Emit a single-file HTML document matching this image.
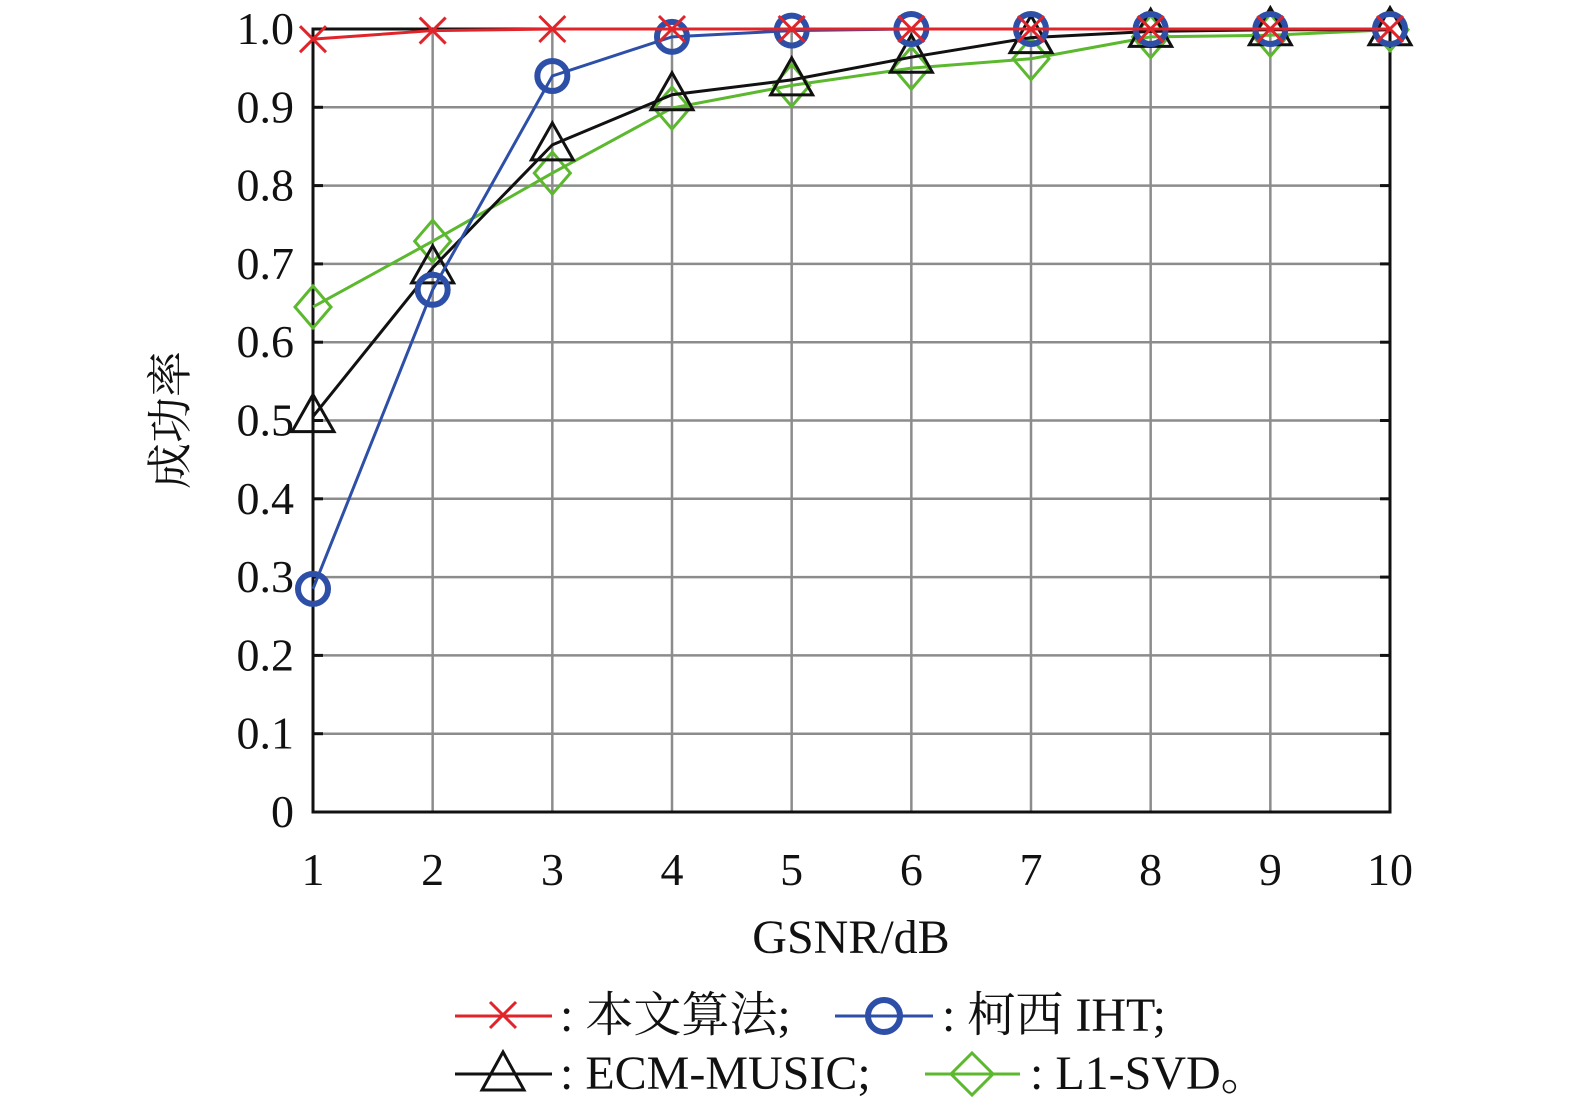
<!DOCTYPE html>
<html><head><meta charset="utf-8"><style>
body{margin:0;background:#fff;}
svg text{font-family:"Liberation Serif","Noto Serif CJK SC",serif;fill:#111;}
</style></head><body>
<svg width="1575" height="1107" viewBox="0 0 1575 1107">
<g id="grid"></g>
<g id="axes"></g>
<g id="series"></g>
<text x="186" y="420" font-size="46" text-anchor="middle" transform="rotate(-90 186 420)">成功率</text>
<text x="851" y="953" font-size="48" text-anchor="middle">GSNR/dB</text>
<g>
 <g>
  <line x1="455" y1="1016" x2="552" y2="1016" stroke="#e0242a" stroke-width="3"/>
  <path d="M490 1002 L516 1028 M516 1002 L490 1028" stroke="#e0242a" stroke-width="3"/>
  <text x="560" y="1031" font-size="48">: 本文算法;</text>
 </g>
 <g>
  <line x1="835" y1="1016" x2="933" y2="1016" stroke="#2e4fa8" stroke-width="3"/>
  <circle cx="884" cy="1016" r="16" fill="none" stroke="#2e4fa8" stroke-width="6"/>
  <text x="942" y="1031" font-size="48">: 柯西 IHT;</text>
 </g>
 <g>
  <line x1="455" y1="1074" x2="552" y2="1074" stroke="#111" stroke-width="3"/>
  <path d="M503 1052 L524 1090 L482 1090 Z" fill="none" stroke="#111" stroke-width="3"/>
  <text x="560" y="1089" font-size="48">: ECM-MUSIC;</text>
 </g>
 <g>
  <line x1="925" y1="1074" x2="1020" y2="1074" stroke="#5cb82e" stroke-width="3"/>
  <path d="M972 1053 L993 1074 L972 1095 L951 1074 Z" fill="none" stroke="#5cb82e" stroke-width="3"/>
  <text x="1030" y="1089" font-size="48">: L1-SVD。</text>
 </g>
</g>
</svg>
<script>
const categories=[1,2,3,4,5,6,7,8,9,10];
const yTicks=[0,0.1,0.2,0.3,0.4,0.5,0.6,0.7,0.8,0.9,1.0];
const yTickLabels=["0","0.1","0.2","0.3","0.4","0.5","0.6","0.7","0.8","0.9","1.0"];
const oursValues=[0.987,0.998,1,1,1,1,1,1,1,1];
const ihtValues=[0.285,0.667,0.94,0.99,0.998,1,1,1,1,1];
const ecmValues=[0.505,0.695,0.852,0.916,0.935,0.964,0.989,0.997,0.999,0.999];
const l1Values=[0.645,0.729,0.816,0.899,0.928,0.95,0.962,0.99,0.992,0.999];
const NS='http://www.w3.org/2000/svg';
const L=313,R=1390,T=29,B=812;
const xs=v=>L+(v-1)/9*(R-L);
const ys=v=>B-v*(B-T);
function mk(tag,attrs,parent){const e=document.createElementNS(NS,tag);for(const k in attrs)e.setAttribute(k,attrs[k]);parent.appendChild(e);return e;}
const grid=document.getElementById('grid'),axes=document.getElementById('axes'),ser=document.getElementById('series');
yTicks.forEach((t,i)=>{
 const g=mk('line',{x1:L,x2:R,y1:ys(t),y2:ys(t),stroke:'#8c8c8c','stroke-width':2.5},grid);
 
 
 mk('line',{x1:L,x2:L+10,y1:ys(t),y2:ys(t),stroke:'#111','stroke-width':3},axes);
 mk('line',{x1:R-10,x2:R,y1:ys(t),y2:ys(t),stroke:'#111','stroke-width':3},axes);
 const tx=mk('text',{x:294,y:ys(t)+15,'font-size':46,'text-anchor':'end'},axes);
 tx.textContent=yTickLabels[i];
 
 
});
categories.forEach(c=>{
 const g=mk('line',{x1:xs(c),x2:xs(c),y1:T,y2:B,stroke:'#8c8c8c','stroke-width':2.5},grid);
 
 
 const tx=mk('text',{x:xs(c),y:885,'font-size':46,'text-anchor':'middle'},axes);
 tx.textContent=String(c);
 
 
});
const fr=mk('rect',{x:L,y:T,width:R-L,height:B-T,fill:'none',stroke:'#111','stroke-width':3},axes);


function series(vals,color,marker,name){
 const g=mk('g',{},ser);
 
 
 mk('polyline',{points:vals.map((v,i)=>xs(categories[i])+','+ys(v)).join(' '),fill:'none',stroke:color,'stroke-width':3},g);
 vals.forEach((v,i)=>{
  const x=xs(categories[i]),y=ys(v);let m;
  if(marker==='x')m=mk('path',{d:`M${x-13} ${y-13}L${x+13} ${y+13}M${x+13} ${y-13}L${x-13} ${y+13}`,stroke:color,'stroke-width':3,fill:'none'},g);
  else if(marker==='o')m=mk('circle',{cx:x,cy:y,r:15,fill:'none',stroke:color,'stroke-width':6},g);
  else if(marker==='t')m=mk('path',{d:`M${x} ${y-22}L${x+21} ${y+15}L${x-21} ${y+15}Z`,fill:'none',stroke:color,'stroke-width':3},g);
  else m=mk('path',{d:`M${x} ${y-21}L${x+18} ${y}L${x} ${y+21}L${x-18} ${y}Z`,fill:'none',stroke:color,'stroke-width':3},g);
  
  
 });
}
series(l1Values,'#5cb82e','d','series-l1-svd');
series(ecmValues,'#111','t','series-ecm-music');
series(ihtValues,'#2e4fa8','o','series-cauchy-iht');
series(oursValues,'#e0242a','x','series-ours');
</script>
</body></html>
